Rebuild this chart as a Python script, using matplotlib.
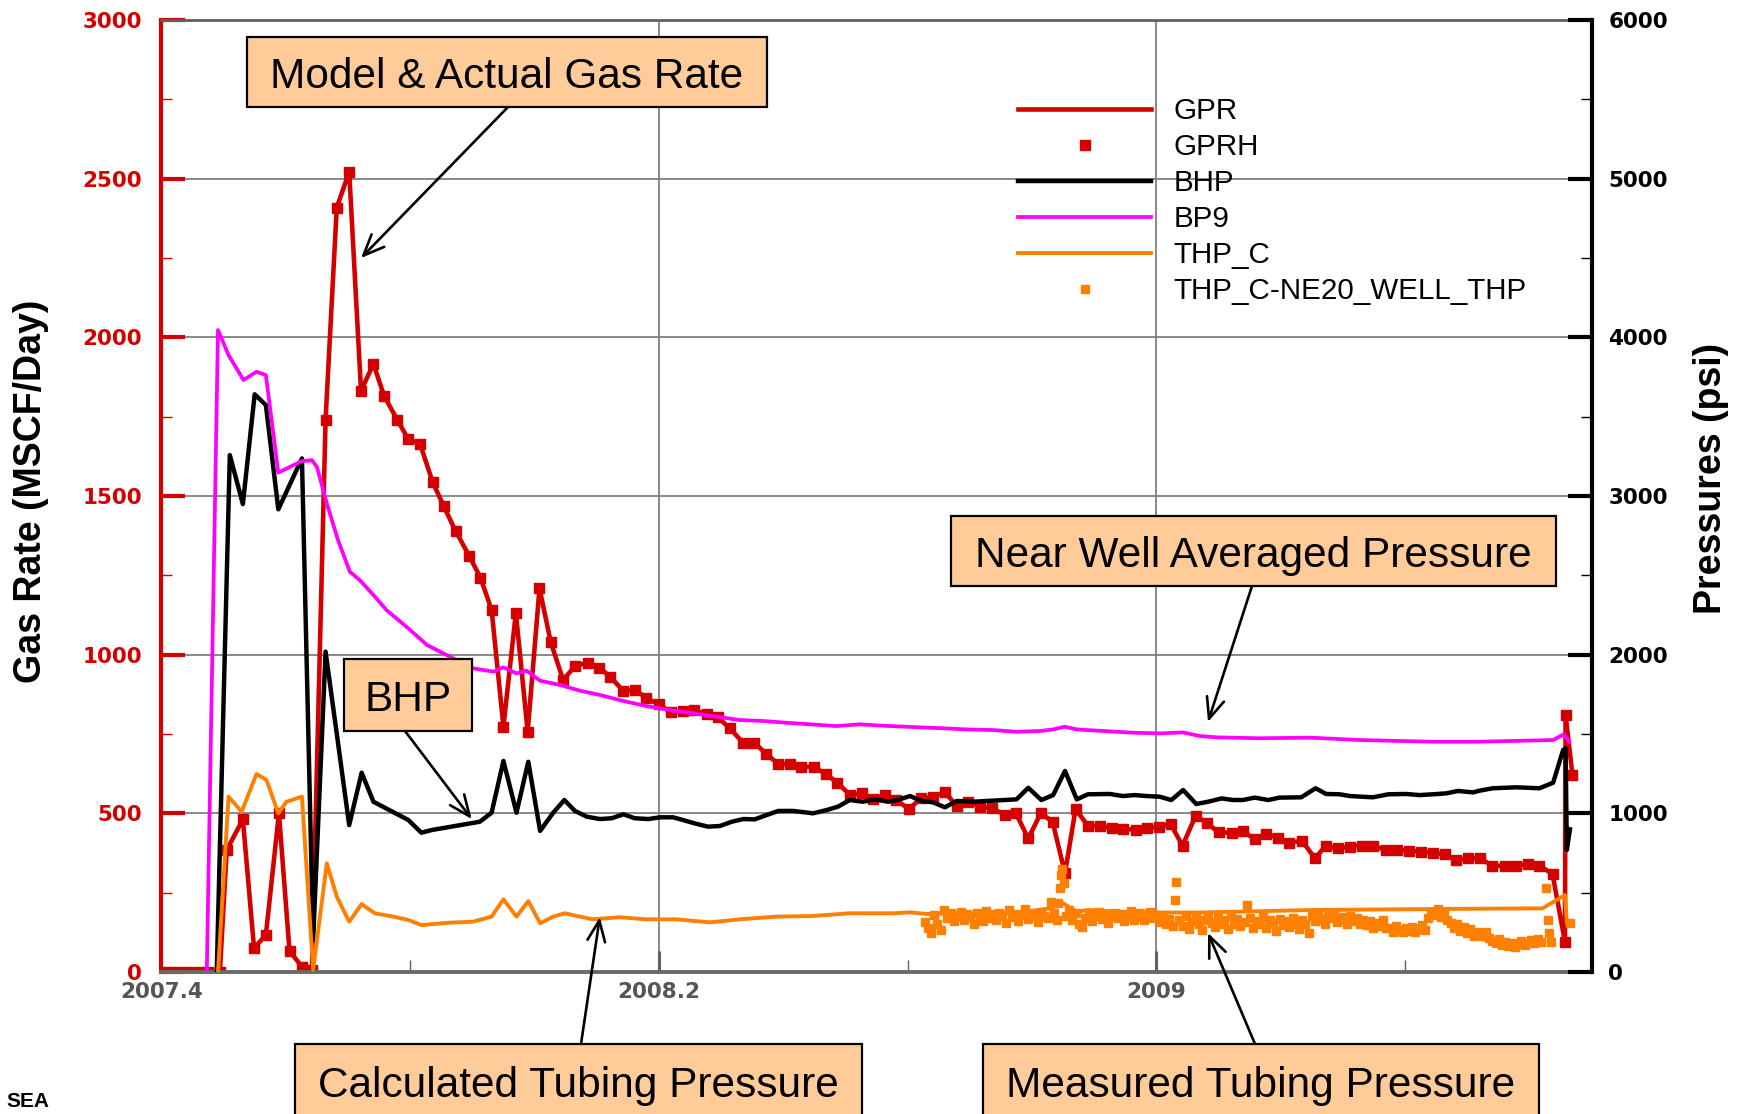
import matplotlib.pyplot as plt
from matplotlib import font_manager
from matplotlib.patches import Rectangle
from matplotlib.ticker import FixedLocator, FixedFormatter, MultipleLocator

plt.rcParams['font.family'] = ['Liberation Sans', 'DejaVu Sans']

# ---- data (decimal years) ----
gas_t = [2007.409, 2007.425, 2007.441, 2007.459, 2007.475, 2007.494, 2007.505, 2007.531,
         2007.549, 2007.568, 2007.589, 2007.606, 2007.626, 2007.642, 2007.664, 2007.682,
         2007.702, 2007.721, 2007.741, 2007.758, 2007.779, 2007.797, 2007.816, 2007.836,
         2007.854, 2007.873, 2007.895, 2007.913, 2007.931, 2007.950, 2007.970, 2007.989,
         2008.008, 2008.026, 2008.046, 2008.065, 2008.086, 2008.104, 2008.122, 2008.143,
         2008.161, 2008.180, 2008.200, 2008.220, 2008.238, 2008.257, 2008.277, 2008.295,
         2008.314, 2008.335, 2008.353, 2008.373, 2008.392, 2008.411, 2008.429, 2008.449,
         2008.468, 2008.487, 2008.507, 2008.526, 2008.545, 2008.563, 2008.582, 2008.602,
         2008.621, 2008.640, 2008.660, 2008.679, 2008.697, 2008.717, 2008.736, 2008.756,
         2008.774, 2008.794, 2008.814, 2008.833, 2008.853, 2008.870, 2008.890, 2008.909,
         2008.928, 2008.946, 2008.967, 2008.985, 2009.004, 2009.023, 2009.042, 2009.063,
         2009.081, 2009.100, 2009.121, 2009.139, 2009.158, 2009.177, 2009.196, 2009.214,
         2009.234, 2009.255, 2009.272, 2009.292, 2009.311, 2009.330, 2009.348, 2009.370,
         2009.387, 2009.407, 2009.426, 2009.444, 2009.464, 2009.482, 2009.501, 2009.521,
         2009.540, 2009.560, 2009.579, 2009.598, 2009.616, 2009.637, 2009.657, 2009.658,
         2009.669]
gas_rate = [0, 0, 0, 0, 0, 0, 384, 481, 75, 117, 500, 66, 17, 6, 1741, 2409,
            2522, 1832, 1916, 1816, 1741, 1679, 1664, 1545, 1468, 1390, 1311, 1243, 1141, 773, 1132, 757,
            1209, 1040, 920, 964, 975, 959, 930, 885, 889, 864, 843, 818, 822, 826, 812, 802,
            768, 723, 723, 687, 655, 655, 647, 647, 624, 597, 558, 563, 544, 558, 542, 513,
            547, 552, 566, 524, 537, 521, 516, 495, 500, 421, 500, 474, 311, 513, 461, 460,
            455, 452, 447, 454, 458, 466, 398, 492, 470, 440, 439, 445, 418, 435, 423, 407,
            414, 358, 397, 390, 395, 398, 398, 384, 384, 382, 379, 376, 371, 353, 358, 358,
            335, 335, 335, 340, 335, 309, 95, 810, 621]

bhp_t = [2007.489, 2007.510, 2007.531, 2007.550, 2007.568, 2007.588, 2007.626, 2007.644,
         2007.664, 2007.702, 2007.722, 2007.741, 2007.797, 2007.818, 2007.835, 2007.912,
         2007.931, 2007.950, 2007.971, 2007.990, 2008.009, 2008.030, 2008.048, 2008.065,
         2008.084, 2008.105, 2008.124, 2008.143, 2008.161, 2008.183, 2008.202, 2008.223,
         2008.242, 2008.261, 2008.279, 2008.298, 2008.317, 2008.336, 2008.354, 2008.373,
         2008.392, 2008.416, 2008.448, 2008.470, 2008.488, 2008.507, 2008.528, 2008.547,
         2008.569, 2008.587, 2008.604, 2008.622, 2008.641, 2008.660, 2008.679, 2008.705,
         2008.737, 2008.775, 2008.794, 2008.815, 2008.834, 2008.853, 2008.872, 2008.890,
         2008.925, 2008.946, 2008.965, 2008.984, 2009.005, 2009.024, 2009.043, 2009.064,
         2009.083, 2009.105, 2009.123, 2009.139, 2009.158, 2009.180, 2009.198, 2009.233,
         2009.256, 2009.273, 2009.295, 2009.311, 2009.348, 2009.373, 2009.402, 2009.423,
         2009.445, 2009.466, 2009.485, 2009.509, 2009.520, 2009.541, 2009.579, 2009.616,
         2009.638, 2009.654, 2009.658, 2009.660, 2009.665]
bhp = [0, 3258, 2949, 3641, 3573, 2916, 3237, 202,
       2019, 926, 1256, 1073, 958, 878, 895, 947,
       1004, 1330, 1004, 1325, 889, 1004, 1084, 1015,
       979, 964, 969, 994, 969, 964, 975, 975,
       954, 933, 916, 920, 947, 964, 962, 989,
       1015, 1015, 1000, 1021, 1042, 1084, 1073, 1088,
       1073, 1088, 1109, 1078, 1069, 1038, 1078, 1073,
       1080, 1088, 1161, 1084, 1115, 1267, 1088, 1120,
       1122, 1109, 1115, 1109, 1105, 1084, 1147, 1059,
       1073, 1094, 1084, 1084, 1099, 1084, 1099, 1101,
       1158, 1122, 1120, 1109, 1101, 1120, 1122, 1115,
       1120, 1126, 1141, 1132, 1143, 1158, 1164, 1158,
       1193, 1399, 1410, 769, 899]

bp9_t = [2007.473, 2007.491, 2007.508, 2007.532, 2007.553, 2007.568, 2007.588, 2007.607,
         2007.626, 2007.642, 2007.650, 2007.666, 2007.684, 2007.703, 2007.719, 2007.741,
         2007.762, 2007.797, 2007.827, 2007.869, 2007.901, 2007.934, 2007.950, 2007.971,
         2007.987, 2008.009, 2008.041, 2008.073, 2008.105, 2008.143, 2008.180, 2008.218,
         2008.255, 2008.293, 2008.330, 2008.368, 2008.405, 2008.443, 2008.486, 2008.523,
         2008.561, 2008.620, 2008.657, 2008.695, 2008.737, 2008.775, 2008.813, 2008.834,
         2008.853, 2008.872, 2008.888, 2008.963, 2009.006, 2009.043, 2009.070, 2009.097,
         2009.166, 2009.247, 2009.327, 2009.445, 2009.515, 2009.638, 2009.655, 2009.664]
bp9 = [0, 4046, 3888, 3731, 3783, 3762, 3147, 3184,
       3220, 3226, 3184, 2954, 2722, 2523, 2470, 2376,
       2281, 2166, 2061, 1977, 1914, 1893, 1920, 1882,
       1899, 1836, 1809, 1773, 1746, 1708, 1676, 1651,
       1630, 1609, 1588, 1582, 1571, 1561, 1550, 1561,
       1552, 1542, 1536, 1529, 1525, 1514, 1519, 1529,
       1546, 1529, 1525, 1508, 1504, 1510, 1487, 1479,
       1473, 1477, 1462, 1451, 1451, 1462, 1498, 1451]

thp_t = [2007.491, 2007.508, 2007.529, 2007.553, 2007.569, 2007.588, 2007.601, 2007.626,
         2007.644, 2007.666, 2007.682, 2007.702, 2007.722, 2007.743, 2007.773, 2007.797,
         2007.818, 2007.864, 2007.901, 2007.931, 2007.950, 2007.971, 2007.990, 2008.009,
         2008.030, 2008.049, 2008.068, 2008.094, 2008.137, 2008.180, 2008.228, 2008.282,
         2008.336, 2008.389, 2008.448, 2008.507, 2008.577, 2008.604, 2008.630, 2008.684,
         2008.737, 2008.791, 2008.829, 2008.850, 2008.872, 2008.890, 2008.963, 2009.070,
         2009.257, 2009.391, 2009.472, 2009.621, 2009.657, 2009.660]
thp_c = [0, 1105, 1010, 1248, 1210, 1000, 1073, 1105,
         13, 685, 475, 317, 428, 370, 349, 328,
         296, 311, 317, 349, 458, 349, 447, 307,
         349, 370, 353, 332, 345, 332, 332, 313,
         334, 349, 353, 370, 370, 376, 366, 370,
         366, 380, 401, 433, 380, 391, 375, 375,
         391, 395, 398, 401, 485, 310]

thp_meas_t = [2008.628, 2008.633, 2008.638, 2008.643, 2008.648, 2008.654, 2008.659, 2008.664,
              2008.669, 2008.674, 2008.680, 2008.685, 2008.690, 2008.695, 2008.700, 2008.706,
              2008.711, 2008.716, 2008.721, 2008.726, 2008.732, 2008.737, 2008.742, 2008.747,
              2008.752, 2008.758, 2008.763, 2008.768, 2008.773, 2008.778, 2008.784, 2008.789,
              2008.794, 2008.799, 2008.804, 2008.810, 2008.815, 2008.820, 2008.825, 2008.830,
              2008.835, 2008.840, 2008.842, 2008.845, 2008.847, 2008.849, 2008.851, 2008.855,
              2008.860, 2008.865, 2008.870, 2008.875, 2008.881, 2008.886, 2008.891, 2008.896,
              2008.901, 2008.907, 2008.912, 2008.917, 2008.922, 2008.927, 2008.933, 2008.938,
              2008.943, 2008.948, 2008.953, 2008.959, 2008.964, 2008.969, 2008.974, 2008.980,
              2008.985, 2008.990, 2008.995, 2009.000, 2009.006, 2009.011, 2009.016, 2009.021,
              2009.026, 2009.030, 2009.032, 2009.037, 2009.042, 2009.047, 2009.052, 2009.057,
              2009.063, 2009.068, 2009.073, 2009.078, 2009.083, 2009.089, 2009.094, 2009.099,
              2009.104, 2009.109, 2009.115, 2009.120, 2009.125, 2009.130, 2009.135, 2009.141,
              2009.146, 2009.151, 2009.156, 2009.161, 2009.167, 2009.172, 2009.177, 2009.182,
              2009.187, 2009.193, 2009.198, 2009.203, 2009.208, 2009.213, 2009.219, 2009.224,
              2009.229, 2009.234, 2009.239, 2009.245, 2009.250, 2009.255, 2009.260, 2009.265,
              2009.271, 2009.276, 2009.281, 2009.286, 2009.291, 2009.297, 2009.302, 2009.307,
              2009.312, 2009.317, 2009.323, 2009.328, 2009.333, 2009.338, 2009.343, 2009.349,
              2009.354, 2009.359, 2009.364, 2009.370, 2009.375, 2009.380, 2009.385, 2009.390,
              2009.396, 2009.401, 2009.406, 2009.411, 2009.416, 2009.422, 2009.427, 2009.432,
              2009.437, 2009.442, 2009.447, 2009.453, 2009.458, 2009.463, 2009.468, 2009.473,
              2009.478, 2009.484, 2009.489, 2009.494, 2009.499, 2009.504, 2009.510, 2009.515,
              2009.520, 2009.525, 2009.530, 2009.535, 2009.540, 2009.546, 2009.551, 2009.556,
              2009.561, 2009.566, 2009.572, 2009.577, 2009.582, 2009.587, 2009.592, 2009.598,
              2009.603, 2009.608, 2009.613, 2009.618, 2009.626, 2009.629, 2009.632, 2009.635,
              2009.665]
thp_meas = [317, 275, 244, 359, 300, 262, 391, 340,
            370, 320, 355, 380, 330, 365, 345, 300,
            372, 350, 320, 385, 340, 365, 330, 375,
            350, 310, 390, 345, 365, 320, 360, 395,
            335, 370, 350, 315, 380, 355, 340, 443,
            370, 330, 435, 527, 611, 650, 560, 350,
            391, 330, 375, 300, 285, 340, 365, 320,
            355, 380, 335, 360, 310, 350, 375, 340,
            365, 320, 345, 385, 330, 355, 370, 325,
            350, 380, 340, 360, 315, 345, 300, 335,
            290, 454, 569, 330, 290, 350, 270, 320,
            345, 300, 265, 330, 355, 310, 285, 340,
            300, 325, 270, 350, 305, 335, 290, 315,
            422, 340, 280, 320, 300, 345, 275, 325,
            310, 260, 335, 295, 320, 285, 340, 305,
            270, 325, 300, 244, 350, 320, 370, 335,
            300, 355, 340, 365, 315, 345, 330, 300,
            355, 320, 340, 305, 330, 295, 320, 280,
            310, 290, 325, 275, 280, 255, 290, 265,
            250, 275, 260, 285, 250, 270, 295, 265,
            340, 380, 360, 400, 345, 375, 330, 310,
            280, 300, 260, 285, 245, 270, 230, 255,
            240, 225, 250, 215, 195, 180, 205, 170,
            190, 165, 185, 160, 175, 195, 170, 185,
            200, 180, 205, 190, 530, 330, 246, 190,
            307]

# ---- figure ----
W, H = 1742, 1114
RED = '#D40000'
ORANGE = '#FF8000'
MAGENTA = '#FF00FF'


def fx(px):
    return px / W


def fy(py):
    return 1 - py / H


fig = plt.figure(figsize=(W / 100, H / 100), dpi=100)
ax = fig.add_axes([fx(161.4), fy(972), (1591.7 - 161.4) / W, (972 - 20) / H])
ax2 = ax.twinx()

ax.set_xlim(2007.4, 2009.7)
ax.set_ylim(0, 3000)
ax2.set_ylim(0, 6000)

l_gpr, = ax.plot(gas_t, gas_rate, color=RED, lw=3.3, label='GPR')
l_gprh, = ax.plot(gas_t, gas_rate, ls='none', marker='s', ms=6.5, color=RED, label='GPRH')
l_bhp, = ax2.plot(bhp_t, bhp, color='black', lw=3.2, label='BHP')
l_bp9, = ax2.plot(bp9_t, bp9, color=MAGENTA, lw=2.7, label='BP9')
l_thp, = ax2.plot(thp_t, thp_c, color=ORANGE, lw=2.8, label='THP_C')
l_meas, = ax2.plot(thp_meas_t, thp_meas, ls='none', marker='s', ms=6.4, color=ORANGE,
                   label='THP_C-NE20_WELL_THP')

# axes styling
ax.xaxis.set_major_locator(FixedLocator([2007.4, 2008.2, 2009.0]))
ax.xaxis.set_major_formatter(FixedFormatter(['2007.4', '2008.2', '2009']))
ax.xaxis.set_minor_locator(FixedLocator([2007.8, 2008.6, 2009.4]))
ax.yaxis.set_major_locator(MultipleLocator(500))
ax.yaxis.set_minor_locator(MultipleLocator(250))
ax2.yaxis.set_major_locator(MultipleLocator(1000))
ax2.yaxis.set_minor_locator(MultipleLocator(500))

ax.grid(which='major', color='#808080', lw=1.3)
ax.set_axisbelow(True)

ax.tick_params(axis='x', which='major', direction='in', length=15, width=2.2, color='#606060',
               labelcolor='#555555', labelsize=15.5, pad=7)
ax.tick_params(axis='x', which='minor', direction='in', length=9, width=1, color='#606060')
ax.tick_params(axis='y', which='major', direction='in', length=17, width=3, color=RED,
               labelcolor=RED, labelsize=15.5, pad=14)
ax.tick_params(axis='y', which='minor', direction='in', length=8, width=1, color=RED)
ax2.tick_params(axis='y', which='major', direction='in', length=17, width=3, color='black',
                labelcolor='black', labelsize=15.5, pad=12)
ax2.tick_params(axis='y', which='minor', direction='in', length=8, width=1, color='black')
for lab in ax.get_xticklabels() + ax.get_yticklabels() + ax2.get_yticklabels():
    lab.set_family('DejaVu Sans')
    lab.set_fontweight('bold')

ax.spines['left'].set_color(RED)
ax.spines['left'].set_linewidth(3)
ax.spines['bottom'].set_color('#6a6a6a')
ax.spines['bottom'].set_linewidth(2.8)
ax.spines['top'].set_color('#606060')
ax.spines['top'].set_linewidth(2)
ax.spines['right'].set_visible(False)
for s in ['left', 'top', 'bottom']:
    ax2.spines[s].set_visible(False)
ax2.spines['right'].set_color('black')
ax2.spines['right'].set_linewidth(3)

# axis titles
names = {f.name for f in font_manager.fontManager.ttflist}
has_narrow = 'Liberation Sans Narrow' in names
fig.text(fx(31), fy(491), 'Gas Rate (MSCF/Day)', rotation=90, ha='center', va='center',
         fontsize=27, fontweight='bold')
fig.text(fx(1711), fy(478), 'Pressures (psi)', rotation=90, ha='center', va='center',
         fontsize=31 if has_narrow else 27, fontweight='bold',
         family=['Liberation Sans Narrow' if has_narrow else 'Liberation Sans', 'DejaVu Sans'])

# legend
ax2.legend(handles=[l_gpr, l_gprh, l_bhp, l_bp9, l_thp, l_meas], loc='upper left',
           bbox_to_anchor=(fx(1018), fy(97)), bbox_transform=fig.transFigure,
           frameon=False, fontsize=21.3, handlelength=4.5, handletextpad=0.75,
           labelspacing=0.27, borderpad=0, borderaxespad=0, numpoints=1)

# callout boxes
boxes = [
    ('Model & Actual Gas Rate', 247, 767, 37, 107),
    ('BHP', 344, 472, 659, 731),
    ('Near Well Averaged Pressure', 951, 1556, 516, 586),
    ('Calculated Tubing Pressure', 295, 862, 1044, 1130),
    ('Measured Tubing Pressure', 983, 1539, 1044, 1130),
]
for text, x0, x1, y0, y1 in boxes:
    fig.patches.append(Rectangle((fx(x0), fy(y1)), (x1 - x0) / W, (y1 - y0) / H,
                                 transform=fig.transFigure, facecolor='#FFCC99',
                                 edgecolor='black', lw=1.6, zorder=5))
    yc = (y0 + y1) / 2 if y1 < H else y0 + 37
    fig.text(fx((x0 + x1) / 2), fy(yc + 5), text, ha='center', va='center', fontsize=30.5,
             zorder=6)

# arrows: tail in figure pixels, tip in pressure-axis data
arrows = [
    ((508, 107), (2007.721, 4500)),
    ((405, 731), (2007.899, 964)),
    ((1252, 586), (2009.083, 1576)),
    ((581, 1044), (2008.105, 346)),
    ((1255, 1044), (2009.083, 246)),
]
for (tx, ty), tip in arrows:
    ax2.annotate('', xy=tip, xycoords='data', xytext=(fx(tx), fy(ty)),
                 textcoords='figure fraction', annotation_clip=False,
                 arrowprops=dict(arrowstyle='->,head_length=0.75,head_width=0.32', lw=1.9,
                                 color='black', mutation_scale=20, shrinkA=0, shrinkB=0))

# logo fragment bottom-left
fig.text(fx(6), fy(1111), 'SEA', ha='left', va='bottom', fontsize=15, fontweight='bold')

fig.savefig('out.png', dpi=100)
